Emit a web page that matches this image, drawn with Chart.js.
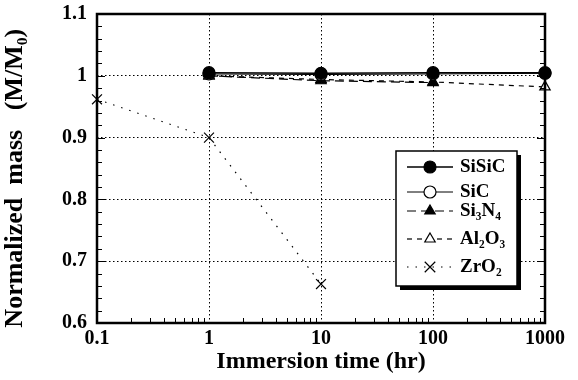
<!DOCTYPE html>
<html>
<head>
<meta charset="utf-8">
<script src="https://cdn.jsdelivr.net/npm/chart.js@4"></script>
<style>
html,body{margin:0;padding:0;background:#fff;}
#wrap{width:578px;height:380px;}
</style>
</head>
<body>
<div id="wrap"><canvas id="c" width="578" height="380"></canvas></div>
<script>
const times = [0.1, 1, 10, 100, 1000];
const xTicks = [0.1, 1, 10, 100, 1000];
const xTickLabels = ['0.1', '1', '10', '100', '1000'];
const yTicks = [0.6, 0.7, 0.8, 0.9, 1.0, 1.1];
const yTickLabels = ['0.6', '0.7', '0.8', '0.9', '1', '1.1'];

const sisic = [null, 1.005, 1.004, 1.005, 1.005];
const sic   = [null, 1.003, 1.002, 1.003, 1.004];
const si3n4 = [null, 1.000, 0.992, 0.989, null];
const al2o3 = [null, 1.000, 0.994, 0.990, 0.982];
const zro2  = [0.962, 0.900, 0.663, null, null];

const seriesNames = ['SiSiC', 'SiC', 'Si\u2083N\u2084', 'Al\u2082O\u2083', 'ZrO\u2082'];

const FONT = "'Liberation Serif', 'Times New Roman', serif";

function pts(arr){ return times.map((t,i)=>({x:t,y:arr[i]})).filter(p=>p.y!==null); }

const styles = [
  {pointStyle:'circle', fill:'#000', dash:[], width:1.5, radius:6},
  {pointStyle:'circle', fill:'#fff', dash:[], width:1, radius:6},
  {pointStyle:'triangle', fill:'#000', dash:[9,5], width:1.2, radius:6},
  {pointStyle:'triangle', fill:'#fff', dash:[5,5], width:1.2, radius:6},
  {pointStyle:'crossRot', fill:'#fff', dash:[1.5,7], width:1.2, radius:7}
];
const dataArrays = [sisic, sic, si3n4, al2o3, zro2];

const datasets = dataArrays.map((arr,i)=>({
  label: seriesNames[i],
  data: pts(arr),
  borderColor:'#000',
  backgroundColor: styles[i].fill,
  borderWidth: styles[i].width,
  borderDash: styles[i].dash,
  pointStyle: styles[i].pointStyle,
  pointRadius: styles[i].radius,
  pointBorderWidth: 1.2,
  pointBackgroundColor: styles[i].fill,
  pointBorderColor:'#000',
  tension: 0,
  clip: false,
  order: i
}));

const framePlugin = {
  id:'frame',
  afterDraw(chart){
    const {ctx, chartArea:a, scales:{x,y}} = chart;
    ctx.save();
    ctx.strokeStyle = '#000';
    ctx.setLineDash([]);
    ctx.lineWidth = 1;
    for (let v = 0.62; v < 1.1; v += 0.02) {
      const py = Math.round(y.getPixelForValue(v)) + 0.5;
      const major = Math.abs(v*10 - Math.round(v*10)) < 1e-6;
      const len = major ? 8 : 5;
      ctx.beginPath();
      ctx.moveTo(a.left, py); ctx.lineTo(a.left + len, py);
      ctx.moveTo(a.right, py); ctx.lineTo(a.right - len, py);
      ctx.stroke();
    }
    for (let d = 0.1; d < 1000; d *= 10) {
      for (let m = 2; m <= 9; m++) {
        const px = Math.round(x.getPixelForValue(d*m)) + 0.5;
        ctx.beginPath();
        ctx.moveTo(px, a.bottom); ctx.lineTo(px, a.bottom - 5);
        ctx.stroke();
      }
    }
    ctx.lineWidth = 2.5;
    ctx.strokeRect(a.left, a.top, a.right - a.left, a.bottom - a.top);

    // legend
    const L = a.right - 149, R = a.right - 28, T = a.top + 137, B = a.top + 272;
    ctx.fillStyle = '#000';
    ctx.fillRect(L + 4, T + 4, R - L, B - T);
    ctx.fillStyle = '#fff';
    ctx.fillRect(L, T, R - L, B - T);
    ctx.lineWidth = 1.5;
    ctx.strokeRect(L, T, R - L, B - T);
    const rows = [T + 16, T + 41, T + 60, T + 88, T + 116];
    const lx0 = L + 11, lx1 = L + 57, mx = L + 34;
    ctx.font = "bold 19px " + FONT;
    ctx.textBaseline = 'middle';
    rows.forEach((ry, i) => {
      const ds = datasets[i];
      ctx.save();
      ctx.strokeStyle = '#000';
      ctx.lineWidth = ds.borderWidth;
      ctx.setLineDash(ds.borderDash);
      ctx.beginPath();
      ctx.moveTo(lx0, ry); ctx.lineTo(lx1, ry);
      ctx.stroke();
      ctx.restore();
      ctx.save();
      ctx.fillStyle = ds.pointBackgroundColor;
      ctx.strokeStyle = '#000';
      ctx.lineWidth = 1.2;
      ctx.setLineDash([]);
      ctx.beginPath();
      if (ds.pointStyle === 'circle') { ctx.arc(mx, ry, ds.pointRadius, 0, Math.PI*2); ctx.fill(); ctx.stroke(); }
      else if (ds.pointStyle === 'triangle') {
        const r = ds.pointRadius;
        ctx.moveTo(mx, ry - r); ctx.lineTo(mx + r*0.87, ry + r*0.5); ctx.lineTo(mx - r*0.87, ry + r*0.5); ctx.closePath();
        ctx.fill(); ctx.stroke();
      } else {
        const r = ds.pointRadius*0.75;
        ctx.moveTo(mx - r, ry - r); ctx.lineTo(mx + r, ry + r);
        ctx.moveTo(mx + r, ry - r); ctx.lineTo(mx - r, ry + r);
        ctx.stroke();
      }
      ctx.restore();
      ctx.fillStyle = '#000';
      ctx.fillText(ds.label, L + 64, ry);
    });
    ctx.restore();
  }
};

new Chart(document.getElementById('c'), {
  type:'line',
  data:{datasets},
  options:{
    responsive:false,
    animation:false,
    layout:{padding:{left:0, right:33, top:14, bottom:0}},
    plugins:{legend:{display:false}, tooltip:{enabled:false}},
    scales:{
      x:{
        type:'logarithmic', min:0.1, max:1000,
        afterBuildTicks(s){ s.ticks = xTicks.map(v=>({value:v})); },
        afterFit(s){ s.height = 57; s.paddingLeft = 0; s.paddingRight = 0; },
        ticks:{
          color:'#000', font:{family:FONT, size:20, weight:'bold'}, padding:4, maxRotation:0, autoSkip:false,
          callback(v){ const i = xTicks.indexOf(v); return i>=0 ? xTickLabels[i] : ''; }
        },
        grid:{color:'#000', lineWidth:1, drawTicks:false},
        border:{display:false, dash:[1.5,2.5]},
        title:{display:true, text:'Immersion time (hr)', color:'#000', font:{family:FONT, size:24, weight:'bold'}, padding:{top:0, bottom:4}}
      },
      y:{
        type:'linear', min:0.6, max:1.1,
        afterBuildTicks(s){ s.ticks = yTicks.map(v=>({value:v})); },
        afterFit(s){ s.width = 97; s.paddingTop = 0; s.paddingBottom = 0; },
        ticks:{
          color:'#000', font:{family:FONT, size:20, weight:'bold'}, padding:10,
          callback(v){ const i = yTicks.findIndex(t=>Math.abs(t-v)<1e-9); return i>=0 ? yTickLabels[i] : ''; }
        },
        grid:{color:'#000', lineWidth:1, drawTicks:false},
        border:{display:false, dash:[1.5,2.5]},
        title:{display:true, text:'Normalized  mass   (M/M\u2080)   ', color:'#000', font:{family:FONT, size:26, weight:'bold'}, padding:{top:0,bottom:4}}
      }
    }
  },
  plugins:[framePlugin]
});
</script>
</body>
</html>
